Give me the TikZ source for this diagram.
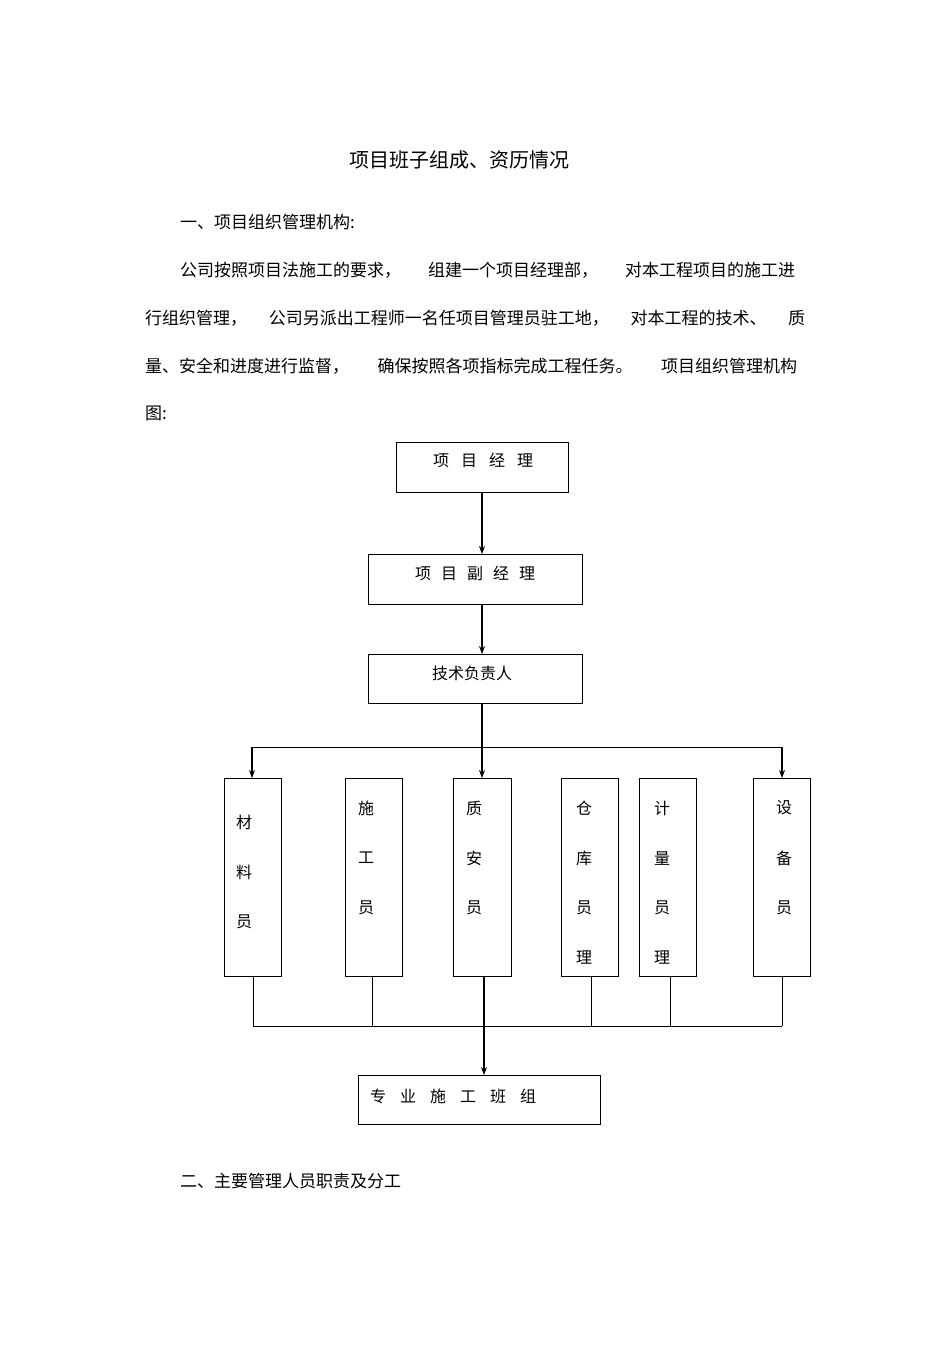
\documentclass[tikz,border=0pt]{standalone}
\usepackage{fontspec}
\setmainfont{Noto Sans CJK SC}
\usetikzlibrary{arrows.meta}
\begin{document}
\begin{tikzpicture}[x=1pt,y=-1pt,
  bx/.style={draw,line width=1pt,inner sep=0pt},
  ln/.style={line width=1pt},
  ar/.style={line width=1.2pt,-{Stealth[length=8pt,width=6pt]}},
  tx/.style={font=\fontsize{16}{18}\selectfont,inner sep=0pt},
  pt/.style={font=\fontsize{17}{19}\selectfont,inner sep=0pt,anchor=west}]
\useasboundingbox (0,0) rectangle (950,1345);
\node[font=\fontsize{20}{22}\selectfont] (title) at (459,160) {项目班子组成、资历情况};
\node[pt] (l1) at (180,222) {一、项目组织管理机构:};
\node[pt] (l2) at (180,270) {\makebox[615pt][s]{公司按照项目法施工的要求，\hfill 组建一个项目经理部，\hfill 对本工程项目的施工进}};
\node[pt] (l3) at (145,318) {\makebox[660pt][s]{行组织管理，\hfill 公司另派出工程师一名任项目管理员驻工地，\hfill 对本工程的技术、\hfill 质}};
\node[pt] (l4) at (145,366) {\makebox[652pt][s]{量、安全和进度进行监督，\hfill 确保按照各项指标完成工程任务。\hfill 项目组织管理机构}};
\node[pt] (l5) at (145,413) {图:};
\node[pt] (l6) at (180,1181) {二、主要管理人员职责及分工};
% boxes
\draw[bx] (396,442) rectangle (568,492);
\node[tx] (a) at (483,460) {项\hspace{12pt}目\hspace{12pt}经\hspace{12pt}理};
\draw[bx] (368,554) rectangle (582,604);
\node[tx] (b) at (475,573) {项\hspace{10pt}目\hspace{10pt}副\hspace{10pt}经\hspace{10pt}理};
\draw[bx] (368,654) rectangle (582,703);
\node[tx] (c) at (472,673) {技术负责人};
\coordinate (a1) at (482,492); \coordinate (b0) at (482,554);
\coordinate (b1) at (482,604); \coordinate (c0) at (482,654);
\coordinate (c1) at (482,703); \coordinate (m0) at (482,778);
\draw[ar] (a1) -- (b0);
\draw[ar] (b1) -- (c0);
\draw[ar] (c1) -- (m0);
\coordinate (hl) at (252,747); \coordinate (hr) at (782,747);
\draw[ln] (hl) -- (hr);
\coordinate (L0) at (252,778); \coordinate (R0) at (782,778);
\draw[ar] (hl) -- (L0);
\draw[ar] (hr) -- (R0);
% tall boxes
\foreach \xa/\xb in {224/281,345/402,453/511,561/618,639/696,753/810}
  \draw[bx] (\xa,778) rectangle (\xb,976);
\node[tx] (p1) at (244,822) {材}; \node[tx] at (244,872) {料}; \node[tx] at (244,922) {员};
\node[tx] (p2) at (366,808) {施}; \node[tx] at (366,858) {工}; \node[tx] at (366,908) {员};
\node[tx] (p3) at (474,808) {质}; \node[tx] at (474,858) {安}; \node[tx] at (474,908) {员};
\node[tx] (p4) at (584,808) {仓}; \node[tx] at (584,858) {库}; \node[tx] at (584,908) {员}; \node[tx] at (584,958) {理};
\node[tx] (p5) at (662,808) {计}; \node[tx] at (662,858) {量}; \node[tx] at (662,908) {员}; \node[tx] at (662,958) {理};
\node[tx] (p6) at (784,808) {设}; \node[tx] at (784,858) {备}; \node[tx] at (784,908) {员};
\foreach \x in {253,372,591,670,782}
  \draw[ln] (\x,976) -- (\x,1026);
\draw[ln] (253,1026) -- (782,1026);
\coordinate (q0) at (484,976); \coordinate (q1) at (484,1075);
\draw[ar] (q0) -- (q1);
\draw[bx] (358,1075) rectangle (600,1124);
\node[tx,anchor=west] (d) at (370,1096) {专\hspace{14pt}业\hspace{14pt}施\hspace{14pt}工\hspace{14pt}班\hspace{14pt}组};
\end{tikzpicture}
\end{document}
